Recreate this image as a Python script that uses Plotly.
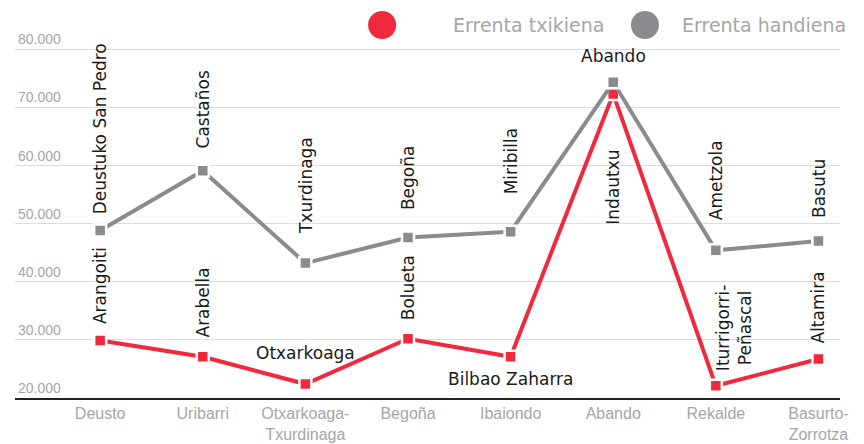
import plotly.graph_objects as go

districts = ["Deusto", "Uribarri", "Otxarkoaga-<br>Txurdinaga", "Begoña", "Ibaiondo",
             "Abando", "Rekalde", "Basurto-<br>Zorrotza"]
low_income = [29900, 27100, 22400, 30200, 27100, 72300, 22100, 26700]
high_income = [48800, 59100, 43200, 47600, 48600, 74300, 45400, 47000]
low_names = ["Arangoiti", "Arabella", "Otxarkoaga", "Bolueta", "Bilbao Zaharra",
             "Indautxu", "Iturrigorri-<br>Peñascal", "Altamira"]
high_names = ["Deustuko San Pedro", "Castaños", "Txurdinaga", "Begoña", "Miribilla",
              "Abando", "Ametzola", "Basutu"]
y_ticks = [20000, 30000, 40000, 50000, 60000, 70000, 80000]
y_labels = ["20.000", "30.000", "40.000", "50.000", "60.000", "70.000", "80.000"]

RED = "#ee2a3c"
GREY = "#8b8a8f"
LABEL_FONT = dict(family="DejaVu Sans", size=17, color="#1a1a1a")
TICK_FONT = "Liberation Sans Narrow, Arial Narrow, Liberation Sans, sans-serif"

x = list(range(len(districts)))

fig = go.Figure()
for vals, col, name in [(low_income, RED, "Errenta txikiena"), (high_income, GREY, "Errenta handiena")]:
    fig.add_trace(go.Scatter(
        x=x, y=vals, name=name, mode="lines+markers", showlegend=False,
        line=dict(color=col, width=4),
        marker=dict(symbol="square", size=12, color=col, line=dict(color="white", width=2.5)),
        hoverinfo="skip"))

# label placement tweaks (styling, not data)
high_gap = [14, 20, 27, 25, 35, None, 28, 21]
low_gap = [14, 17, None, 16, None, None, 13, 14]

for i, (name, v) in enumerate(zip(high_names, high_income)):
    if high_gap[i] is None:
        fig.add_annotation(x=i, y=v, text=name, showarrow=False, font=LABEL_FONT,
                           yanchor="bottom", yshift=14)
    else:
        fig.add_annotation(x=i, y=v, text=name, showarrow=False, font=LABEL_FONT,
                           textangle=-90, yanchor="bottom", yshift=high_gap[i])

for i, (name, v) in enumerate(zip(low_names, low_income)):
    if i == 2:
        fig.add_annotation(x=i, y=v, text=name, showarrow=False, font=LABEL_FONT,
                           yanchor="bottom", yshift=19)
    elif i == 4:
        fig.add_annotation(x=i, y=v, text=name, showarrow=False, font=LABEL_FONT,
                           yanchor="top", yshift=-10)
    elif i == 5:
        fig.add_annotation(x=i, y=v, text=name, showarrow=False, font=LABEL_FONT,
                           textangle=-90, yanchor="top", yshift=-54)
    elif i == 6:
        fig.add_annotation(x=i, y=v, text=name, showarrow=False, font=LABEL_FONT,
                           textangle=-90, yanchor="bottom", yshift=low_gap[i], xshift=18)
    else:
        fig.add_annotation(x=i, y=v, text=name, showarrow=False, font=LABEL_FONT,
                           textangle=-90, yanchor="bottom", yshift=low_gap[i])

# legend drawn by hand (big circles)
for px, col, name, tx in [(0.445, RED, "Errenta txikiena", 0.5285),
                          (0.7636, GREY, "Errenta handiena", 0.806)]:
    fig.add_shape(type="circle", xref="paper", yref="paper", xsizemode="pixel", ysizemode="pixel",
                  xanchor=px, yanchor=1.0136, x0=-14, x1=14, y0=-14, y1=14,
                  fillcolor=col, line=dict(width=0))
    fig.add_annotation(xref="paper", yref="paper", x=tx, y=1.0136, text=name, showarrow=False,
                       xanchor="left", yanchor="middle",
                       font=dict(family="DejaVu Sans", size=19, color="#a6a6a6"))

# page body adds an 8px offset, so the figure is a bit smaller than the window
fig.update_layout(
    width=856, height=436,
    margin=dict(l=7, r=24, t=22, b=46),
    paper_bgcolor="white", plot_bgcolor="white",
    xaxis=dict(tickmode="array", tickvals=x, ticktext=districts, range=[-0.83, 7.21],
               automargin=False,
               showgrid=False, zeroline=False, showline=True, linecolor="#222222", linewidth=1.5,
               ticks="", tickfont=dict(family=TICK_FONT, size=16, color="#a6a6a6")),
    yaxis=dict(tickmode="array", tickvals=y_ticks, ticktext=y_labels, range=[20000, 83300],
               automargin=False,
               showgrid=True, gridcolor="#dcdcdc", gridwidth=1, zeroline=False, showline=False,
               ticklabelposition="inside top",
               tickfont=dict(family=TICK_FONT, size=14, color="#a6a6a6")),
)

fig.write_html("out.html")
